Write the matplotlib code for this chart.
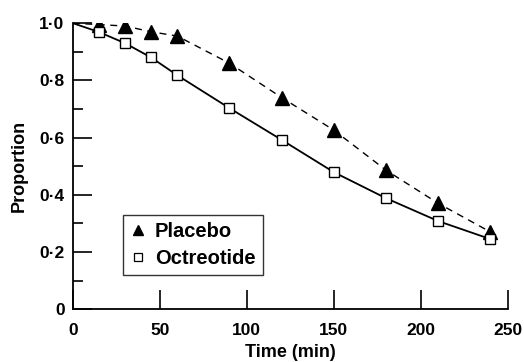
import matplotlib
matplotlib.use('Agg')
import matplotlib.pyplot as plt
from matplotlib.ticker import MultipleLocator, FixedLocator

plt.rcParams['font.family'] = ['Liberation Sans', 'DejaVu Sans']
plt.rcParams['font.weight'] = 'bold'

# data
time = [15, 30, 45, 60, 90, 120, 150, 180, 210, 240]
placebo = [0.995, 0.99, 0.97, 0.955, 0.86, 0.74, 0.626, 0.486, 0.37, 0.27]
octreotide = [0.969, 0.93, 0.88, 0.818, 0.703, 0.592, 0.479, 0.388, 0.308, 0.245]
start_time = 0
start_value = 1.0

yticks = [0, 0.2, 0.4, 0.6, 0.8, 1.0]
ytick_labels = ['0', '0·2', '0·4', '0·6', '0·8', '1·0']
xticks = [0, 50, 100, 150, 200, 250]

fig = plt.figure(figsize=(5.24, 3.62), dpi=100)
ax = fig.add_axes([0.139, 0.146, 0.830, 0.790])

ax.plot([start_time] + time, [start_value] + placebo, color='black', lw=1.0,
        ls=(0, (5, 4)), zorder=2)
ax.plot([start_time] + time, [start_value] + octreotide, color='black', lw=1.3,
        zorder=2)
ax.plot(time, placebo, ls='none', marker='^', ms=9.5, color='black', zorder=3)
ax.plot(time, octreotide, ls='none', marker='s', ms=7.3, mfc='white',
        mec='black', mew=1.0, zorder=4)

# legend handles
h1, = ax.plot([], [], ls='none', marker='^', ms=6.5, color='black')
h2, = ax.plot([], [], ls='none', marker='s', ms=5.5, mfc='white', mec='black', mew=0.9)
leg = ax.legend([h1, h2], ['Placebo', 'Octreotide'], loc='lower left',
                bbox_to_anchor=(0.115, 0.12), frameon=True,
                prop={'size': 14.5, 'weight': 'bold'},
                fancybox=False, edgecolor='black', handlelength=0.8,
                handletextpad=0.45, borderpad=0.35, labelspacing=0.38,
                borderaxespad=0)
leg.get_frame().set_linewidth(1.0)

ax.set_xlim(0, 250)
ax.set_ylim(0, 1.0)
ax.spines['top'].set_visible(False)
ax.spines['right'].set_visible(False)
ax.spines['left'].set_linewidth(1.3)
ax.spines['bottom'].set_linewidth(1.3)

ax.xaxis.set_major_locator(FixedLocator(xticks))
ax.yaxis.set_major_locator(FixedLocator(yticks))
ax.set_yticklabels(ytick_labels)
ax.yaxis.set_minor_locator(MultipleLocator(0.1))
ax.tick_params(axis='both', which='major', direction='in', length=14, width=1.2,
               labelsize=12.5)
ax.tick_params(axis='y', which='minor', direction='in', length=7, width=1.2)
ax.tick_params(axis='x', pad=10)
ax.tick_params(axis='y', pad=6)

ax.set_xlabel('Time (min)', fontsize=13, fontweight='bold', labelpad=4)
ax.set_ylabel('Proportion', fontsize=13, fontweight='bold', labelpad=8)

fig.savefig('out.png', dpi=100)
